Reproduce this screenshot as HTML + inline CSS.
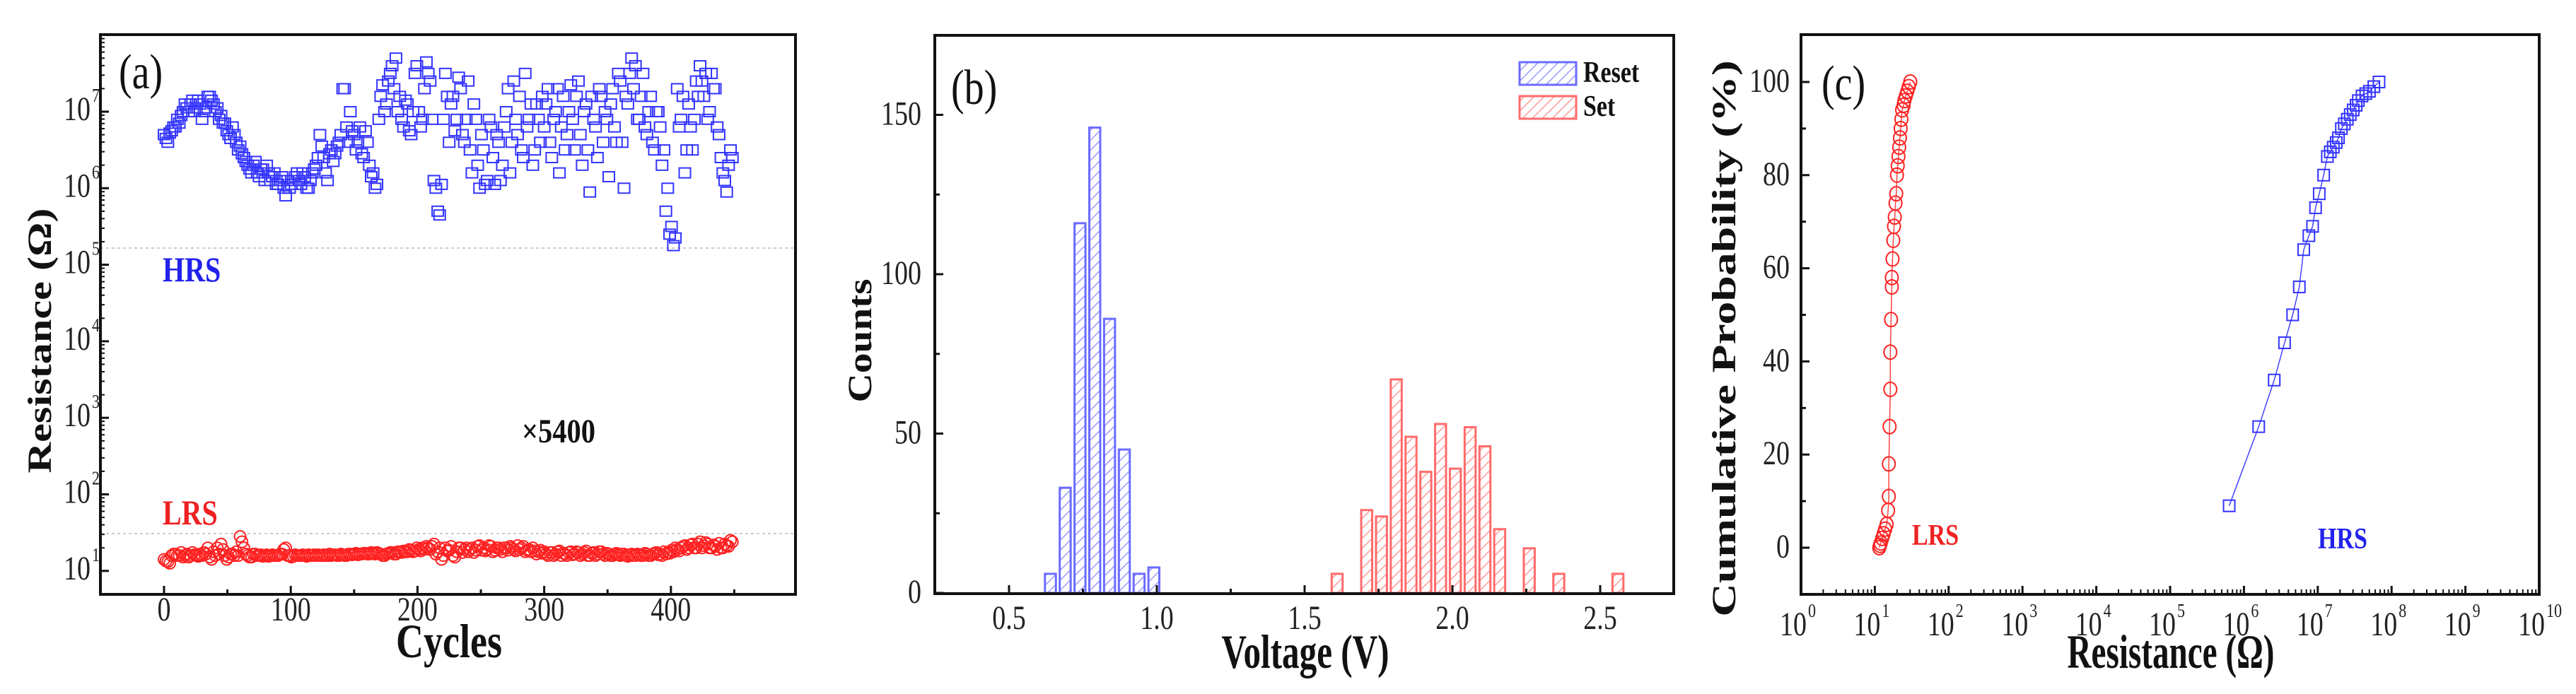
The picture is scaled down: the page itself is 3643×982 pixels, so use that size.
<!DOCTYPE html>
<html><head><meta charset="utf-8"><style>
html,body{margin:0;padding:0;background:#fff;}
svg{display:block;}
text{font-family:"Liberation Serif",serif;}
</style></head><body>
<svg id="fig" xmlns="http://www.w3.org/2000/svg" width="3643" height="982" viewBox="0 0 3643 982">
<defs>
<pattern id="hatchB" patternUnits="userSpaceOnUse" width="10" height="10" patternTransform="rotate(45)"><line x1="0" y1="0" x2="0" y2="10" stroke="#9a9aff" stroke-width="3"/></pattern>
<pattern id="hatchR" patternUnits="userSpaceOnUse" width="10" height="10" patternTransform="rotate(45)"><line x1="0" y1="0" x2="0" y2="10" stroke="#ff9a9a" stroke-width="3"/></pattern>
</defs>
</svg>
<script>
// ---------- Panel (a) data: log10(resistance) vs cycle ----------
const aCycleStep = 3;
const hrsLog = [6.7,6.6,6.75,6.8,6.85,7.0,7.05,7.1,7.0,7.15,
6.9,7.05,7.2,7.1,7.05,6.95,6.85,6.7,6.8,6.6,
6.55,6.4,6.3,6.2,6.35,6.15,6.25,6.3,6.1,6.2,
6.05,6.15,5.9,6.0,6.1,6.2,6.05,6.15,6.0,6.2,
6.3,6.7,6.4,6.1,6.5,6.45,6.6,7.3,6.8,7.0,
6.7,6.6,6.45,6.75,6.3,6.2,6.05,7.2,7.0,7.4,
7.6,7.7,7.2,6.8,7.1,6.7,7.5,7.0,6.9,7.65,
7.4,6.1,5.7,6.05,7.5,6.6,7.2,6.9,7.3,6.6,
7.4,6.2,6.9,6.0,6.5,6.1,6.8,6.05,6.6,6.3,
7.0,6.2,7.4,6.7,6.5,7.5,6.9,6.3,7.1,6.6,
6.8,7.3,6.4,7.0,6.2,7.2,6.7,7.35,6.5,7.4,
6.3,7.1,5.95,6.9,6.4,7.2,7.0,6.15,7.3,6.6,
7.4,6.0,7.1,7.7,7.6,6.9,7.5,6.7,7.2,6.5,
7.0,6.3,5.7,5.4,5.25,7.3,6.9,6.2,7.1,6.5,
7.4,7.6,7.2,6.9,7.5,7.3,6.7,6.2,5.95,6.5];
// second interleaved sample (cycles offset by 1.5)
const hrsLog2 = [6.65,6.72,6.8,6.9,6.95,7.1,7.0,7.15,7.05,7.1,
7.0,7.2,7.15,7.0,6.9,6.85,6.75,6.65,6.7,6.5,
6.45,6.35,6.25,6.3,6.2,6.25,6.1,6.2,6.15,6.05,
6.1,6.0,6.1,6.05,6.15,6.1,6.2,6.0,6.1,6.25,
6.4,6.55,6.2,6.45,6.35,6.55,6.7,7.3,6.6,6.75,
6.5,6.8,6.4,6.6,6.15,6.0,6.9,7.35,7.1,7.5,
7.3,7.0,6.9,7.15,6.75,7.0,7.6,6.8,7.3,7.5,
6.9,6.0,5.65,6.9,7.2,7.1,6.75,7.45,6.7,6.9,
6.5,7.1,6.3,6.7,6.05,6.9,6.4,6.7,6.1,6.8,
7.3,6.6,6.9,7.2,6.4,6.8,7.1,6.5,6.9,7.2,
7.1,6.6,6.9,7.3,6.8,6.5,7.0,6.9,7.2,6.7,
7.0,6.5,7.2,6.8,7.3,6.6,6.9,7.1,6.8,7.5,
6.6,7.2,7.5,7.3,6.9,7.2,6.8,7.0,6.6,7.0,
6.8,6.5,6.0,5.5,5.35,6.8,7.2,6.5,6.8,6.9,
7.2,7.4,7.5,7.0,7.3,6.8,6.4,6.1,6.3,6.4];
const lrsLog = [1.15,1.12,1.2,1.22,1.2,1.18,1.22,1.2,1.21,1.19,
1.2,1.22,1.18,1.25,1.3,1.35,1.2,1.18,1.22,1.25,
1.45,1.3,1.2,1.18,1.22,1.2,1.19,1.21,1.2,1.2,
1.2,1.22,1.3,1.2,1.19,1.2,1.2,1.2,1.21,1.2,
1.2,1.2,1.21,1.2,1.2,1.21,1.2,1.21,1.2,1.22,
1.22,1.21,1.22,1.23,1.22,1.23,1.24,1.22,1.2,1.23,
1.24,1.22,1.25,1.26,1.25,1.27,1.26,1.28,1.3,1.32,
1.28,1.35,1.25,1.15,1.3,1.27,1.2,1.25,1.3,1.28,
1.25,1.3,1.27,1.33,1.3,1.28,1.32,1.27,1.3,1.25,
1.3,1.32,1.28,1.33,1.3,1.25,1.28,1.3,1.22,1.27,
1.25,1.2,1.24,1.22,1.26,1.23,1.2,1.25,1.22,1.24,
1.22,1.26,1.2,1.24,1.22,1.25,1.2,1.22,1.2,1.23,
1.2,1.22,1.19,1.22,1.2,1.21,1.2,1.22,1.2,1.23,
1.21,1.2,1.22,1.23,1.25,1.28,1.3,1.33,1.3,1.35,
1.3,1.38,1.33,1.35,1.3,1.32,1.36,1.3,1.33,1.4];
const lrsLog2 = [1.13,1.1,1.22,1.2,1.24,1.2,1.18,1.24,1.2,1.22,
1.24,1.3,1.15,1.2,1.22,1.28,1.15,1.22,1.2,1.2,
1.38,1.22,1.18,1.22,1.2,1.21,1.2,1.19,1.21,1.2,
1.22,1.28,1.2,1.18,1.21,1.2,1.21,1.19,1.2,1.21,
1.21,1.2,1.2,1.22,1.21,1.2,1.22,1.2,1.22,1.21,
1.23,1.22,1.23,1.22,1.24,1.22,1.23,1.2,1.22,1.24,
1.22,1.25,1.24,1.25,1.28,1.25,1.3,1.26,1.28,1.3,
1.32,1.22,1.3,1.2,1.26,1.32,1.18,1.3,1.24,1.3,
1.28,1.24,1.32,1.27,1.26,1.33,1.25,1.3,1.28,1.3,
1.27,1.3,1.26,1.28,1.32,1.27,1.25,1.26,1.25,1.23,
1.22,1.24,1.2,1.25,1.2,1.22,1.24,1.21,1.25,1.2,
1.24,1.2,1.23,1.2,1.25,1.22,1.23,1.2,1.22,1.21,
1.22,1.2,1.21,1.2,1.22,1.2,1.23,1.2,1.22,1.24,
1.22,1.25,1.24,1.27,1.3,1.26,1.32,1.28,1.34,1.3,
1.35,1.3,1.37,1.3,1.34,1.28,1.3,1.35,1.32,1.38];
const aXTicks = [0,100,200,300,400];
const aYTicks = [1,2,3,4,5,6,7];

// ---------- Panel (b) data ----------
const resetCenters = [0.64,0.69,0.74,0.79,0.84,0.89,0.94,0.99];
const resetCounts = [6,33,116,146,86,45,6,8];
const setCenters = [1.61,1.71,1.76,1.81,1.86,1.91,1.96,2.01,2.06,2.11,2.16,2.26,2.36,2.56];
const setCounts = [6,26,24,67,49,38,53,39,52,46,20,14,6,6];
const bXTicks = ["0.5","1.0","1.5","2.0","2.5"];
const bYTicks = [0,50,100,150];

// ---------- Panel (c) data: log10(R), cumulative % ----------
const cLrsLog = [1.06,1.07,1.08,1.1,1.12,1.14,1.16,1.18,1.19,1.19,1.2,1.21,1.21,1.22,1.23,1.23,1.24,1.25,1.26,1.27,1.28,1.29,1.3,1.31,1.32,1.33,1.34,1.35,1.36,1.37,1.39,1.4,1.42,1.44,1.46,1.48];
const cLrsP = [0,0.5,1,2,3,4,5,8,11,18,26,34,42,49,56,58,62,66,69,71,74,76,80,82,84,86,88,90,92,94,95,96,97,98,99,100];
const cHrsLog = [5.8,6.2,6.41,6.55,6.66,6.75,6.81,6.88,6.93,6.97,7.02,7.08,7.13,7.17,7.21,7.25,7.28,7.32,7.36,7.4,7.44,7.48,7.52,7.55,7.6,7.65,7.7,7.76,7.83];
const cHrsP = [9,26,36,44,50,56,64,67,69,73,76,80,84,85,86,87,88,90,91,92,93,94,95,96,97,97.5,98,99,100];
const cXTicks = [0,1,2,3,4,5,6,7,8,9,10];
const cYTicks = [0,20,40,60,80,100];

const svg = document.getElementById('fig');
const NS = 'http://www.w3.org/2000/svg';
function mk(tag, attrs, parent){const e=document.createElementNS(NS,tag);for(const k in attrs)e.setAttribute(k,attrs[k]);(parent||svg).appendChild(e);return e;}
const SY = 1.25;
function txt(x,y,s,size,opts){
  opts=opts||{};
  const t=mk('text',{x:0,y:0,'font-size':size,'text-anchor':opts.anchor||'start','font-weight':opts.bold?'bold':'normal',fill:opts.fill||'#111',
    transform:`translate(${x},${y}) ${opts.rot?'rotate(-90)':''} scale(${opts.rot?SY:1},${opts.rot?1:SY})`},opts.parent);
  if(opts.len){t.setAttribute('textLength',opts.len);t.setAttribute('lengthAdjust','spacingAndGlyphs');}
  t.textContent=s;
  return t;
}
function pow10(x,y,n,parent,name){
  const g=mk('g',{},parent);
  
  
  const t=mk('text',{x:0,y:0,'font-size':38,'text-anchor':'end',fill:'#222',transform:`translate(${x},${y}) scale(1,${SY})`},g);
  t.textContent='10';
  const s=mk('text',{x:0,y:0,'font-size':22,fill:'#222',transform:`translate(${x+2},${y-26}) scale(1,${SY})`},g);
  s.textContent=String(n);
}
function frame(l,t,r,b,name){
  const f=mk('rect',{x:l,y:t,width:r-l,height:b-t,fill:'none',stroke:'#111','stroke-width':4});
  
  
}
function line(x1,y1,x2,y2,w,c,p){return mk('line',{x1,y1,x2,y2,stroke:c||'#111','stroke-width':w||3},p);}

// ================= Panel (a) =================
const A={l:142,t:49,r:1125,b:841};
const xA=c=>232+c*1.792, yA=v=>158-(v-7)*108.3;
const gA=mk('g',{});


line(A.l,351,A.r,351,2,'#ccc',gA).setAttribute('stroke-dasharray','4 4');
line(A.l,755,A.r,755,2,'#ccc',gA).setAttribute('stroke-dasharray','4 4');
function hrsPt(c,v){
  const r=mk('rect',{x:xA(c)-8,y:yA(v)-7,width:16,height:14,fill:'none',stroke:'#3333ff','stroke-width':2},gA);
  
  
}
function lrsPt(c,v){
  const e=mk('ellipse',{cx:xA(c),cy:yA(v),rx:8,ry:8,fill:'none',stroke:'#ff2222','stroke-width':2},gA);
  
  
}
hrsLog.forEach((v,i)=>hrsPt(i*aCycleStep,v));
hrsLog2.forEach((v,i)=>hrsPt(i*aCycleStep+1.5,v));
lrsLog.forEach((v,i)=>lrsPt(i*aCycleStep,v));
lrsLog2.forEach((v,i)=>lrsPt(i*aCycleStep+1.5,v));
frame(A.l,A.t,A.r,A.b,'panel-a-frame');
aXTicks.forEach(c=>{line(xA(c),A.b,xA(c),A.b-12,3,'#111',gA);txt(xA(c),878,String(c),38,{anchor:'middle',parent:gA,fill:'#222'});});
[50,150,250,350,450].forEach(c=>line(xA(c),A.b,xA(c),A.b-7,3,'#111',gA));
aYTicks.forEach(v=>{line(A.l,yA(v),A.l+12,yA(v),3,'#111',gA);pow10(128,yA(v)+12,v,gA,'y-tick-label');
  for(let k=2;k<10;k++){const y=yA(v+Math.log10(k));if(y>A.t&&y<A.b)line(A.l,y,A.l+6,y,2,'#111',gA);}});
txt(168,125,'(a)',56,{parent:gA});
txt(230,398,'HRS',40,{bold:true,fill:'#2222ee',parent:gA});
txt(230,742,'LRS',40,{bold:true,fill:'#ee2222',parent:gA});
txt(738,626,'×5400',38,{bold:true,parent:gA,len:104});
txt(635,930,'Cycles',54,{bold:true,anchor:'middle',parent:gA,len:150});
txt(72,482,'Resistance (Ω)',48,{bold:true,anchor:'middle',rot:true,parent:gA,len:300});

// ================= Panel (b) =================
const B={l:1322,t:50,r:2367,b:840};
const xB=v=>1427+(v-0.5)*418, yB=n=>839-n*4.51;
const gB=mk('g',{});


const bw=0.037*418;
resetCenters.forEach((c,i)=>{
  const r=mk('rect',{x:xB(c)-bw/2,y:yB(resetCounts[i]),width:bw,height:yB(0)-yB(resetCounts[i]),fill:'url(#hatchB)',stroke:'#6b6bff','stroke-width':3},gB);
  
  
});
setCenters.forEach((c,i)=>{
  const r=mk('rect',{x:xB(c)-bw/2,y:yB(setCounts[i]),width:bw,height:yB(0)-yB(setCounts[i]),fill:'url(#hatchR)',stroke:'#ff6b6b','stroke-width':3},gB);
  
  
});
frame(B.l,B.t,B.r,B.b,'panel-b-frame');
bXTicks.forEach(s=>{const v=parseFloat(s);line(xB(v),B.b,xB(v),B.b-12,3,'#111',gB);txt(xB(v),890,s,38,{anchor:'middle',parent:gB,fill:'#222'});});
[0.75,1.25,1.75,2.25].forEach(v=>line(xB(v),B.b,xB(v),B.b-7,3,'#111',gB));
bYTicks.forEach(n=>{line(B.l,yB(n),B.l+12,yB(n),3,'#111',gB);txt(1303,yB(n)+14,String(n),38,{anchor:'end',parent:gB,fill:'#222'});});
[25,75,125].forEach(n=>line(B.l,yB(n),B.l+7,yB(n),3,'#111',gB));
txt(1345,147,'(b)',56,{parent:gB});
const lg=mk('g',{},gB);


mk('rect',{x:2149,y:88,width:80,height:32,fill:'url(#hatchB)',stroke:'#6b6bff','stroke-width':3},lg);
mk('rect',{x:2149,y:136,width:80,height:32,fill:'url(#hatchR)',stroke:'#ff6b6b','stroke-width':3},lg);
txt(2239,116,'Reset',34,{bold:true,parent:lg});
txt(2239,164,'Set',34,{bold:true,parent:lg});
txt(1846,945,'Voltage (V)',54,{bold:true,anchor:'middle',parent:gB,len:237});
txt(1232,482,'Counts',48,{bold:true,anchor:'middle',rot:true,parent:gB,len:140});

// ================= Panel (c) =================
const C={l:2547,t:49,r:3591,b:841};
const xC=v=>2547+v*104.4, yC=p=>775-p*6.59;
const gC=mk('g',{});


mk('polyline',{points:cLrsLog.map((v,i)=>xC(v)+','+yC(cLrsP[i])).join(' '),fill:'none',stroke:'#ff4444','stroke-width':1.5},gC);
mk('polyline',{points:cHrsLog.map((v,i)=>xC(v)+','+yC(cHrsP[i])).join(' '),fill:'none',stroke:'#4444ff','stroke-width':1.5},gC);
cLrsLog.forEach((v,i)=>{
  const c=mk('ellipse',{cx:xC(v),cy:yC(cLrsP[i]),rx:9,ry:10,fill:'none',stroke:'#ff2222','stroke-width':2},gC);
  
  
});
cHrsLog.forEach((v,i)=>{
  const r=mk('rect',{x:xC(v)-8,y:yC(cHrsP[i])-8,width:16,height:16,fill:'none',stroke:'#3333ff','stroke-width':2},gC);
  
  
});
frame(C.l,C.t,C.r,C.b,'panel-c-frame');
cXTicks.forEach(v=>{line(xC(v),C.b,xC(v),C.b-12,3,'#111',gC);pow10(xC(v)+8,899,v,gC,'x-tick-label');
  if(v<10)for(let k=2;k<10;k++)line(xC(v+Math.log10(k)),C.b,xC(v+Math.log10(k)),C.b-7,2,'#111',gC);});
cYTicks.forEach(p=>{line(C.l,yC(p),C.l+12,yC(p),3,'#111',gC);txt(2531,yC(p)+14,String(p),38,{anchor:'end',parent:gC,fill:'#222'});});
[-10,10,30,50,70,90].forEach(p=>line(C.l,yC(p),C.l+7,yC(p),3,'#111',gC));
txt(2576,141,'(c)',56,{parent:gC});
txt(2704,771,'LRS',34,{bold:true,fill:'#ee2222',parent:gC});
txt(3278,776,'HRS',34,{bold:true,fill:'#2222ee',parent:gC});
txt(3070,945,'Resistance (Ω)',54,{bold:true,anchor:'middle',parent:gC,len:293});
txt(2454,479,'Cumulative Probability (%)',48,{bold:true,anchor:'middle',rot:true,parent:gC,len:630});
</script>
</body></html>
